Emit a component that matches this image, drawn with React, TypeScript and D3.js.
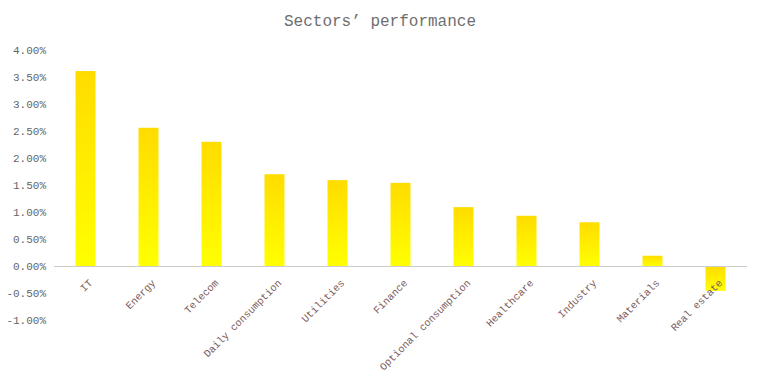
import * as React from 'react';
import {useEffect, useRef} from 'react';
import * as d3 from 'd3';

const width = 762;
const height = 375;

const sectors = [
  'IT', 'Energy', 'Telecom', 'Daily consumption', 'Utilities', 'Finance',
  'Optional consumption', 'Healthcare', 'Industry', 'Materials', 'Real estate'
];
const performance = [3.61, 2.56, 2.30, 1.70, 1.59, 1.54, 1.09, 0.93, 0.81, 0.19, -0.46];
const yTicks = [-1, -0.5, 0, 0.5, 1, 1.5, 2, 2.5, 3, 3.5, 4];

const font = '"Liberation Mono", "DejaVu Sans Mono", monospace';

export default function App() {
  const ref = useRef<SVGSVGElement>(null);

  useEffect(() => {
    const svg = d3.select(ref.current);
    svg.selectAll('*').remove();

    const x = d3.scaleBand().domain(sectors).range([54, 747]).paddingInner(0).paddingOuter(0);
    const y = d3.scaleLinear().domain([-1, 4]).range([320, 50]);

    const defs = svg.append('defs');
    const grad = defs.append('linearGradient')
      .attr('id', 'barGrad')
      .attr('x1', 0).attr('y1', 0).attr('x2', 0).attr('y2', 1);
    grad.append('stop').attr('offset', '0%').attr('stop-color', '#ffdc00');
    grad.append('stop').attr('offset', '100%').attr('stop-color', '#ffff00');

    svg.append('text')
      .attr('x', 380)
      .attr('y', 26)
      .attr('text-anchor', 'middle')
      .style('font-family', font)
      .style('font-size', '16px')
      .attr('fill', '#6e6e6e')
      .text('Sectors’ performance');

    // y tick labels
    svg.append('g')
      .selectAll('text')
      .data(yTicks)
      .join('text')
      .attr('x', 46)
      .attr('y', d => y(d))
      .attr('dy', '0.35em')
      .attr('text-anchor', 'end')
      .style('font-family', font)
      .style('font-size', '11px')
      .attr('fill', '#666')
      .text(d => d3.format('.2f')(d).replace('−', '-') + '%');

    const barW = 20;
    svg.append('g')
      .selectAll('rect')
      .data(performance)
      .join('rect')
      .attr('x', (d, i) => x(sectors[i])! + x.bandwidth() / 2 - barW / 2)
      .attr('y', d => y(Math.max(0, d)))
      .attr('width', barW)
      .attr('height', d => Math.abs(y(d) - y(0)))
      .attr('fill', 'url(#barGrad)');

    svg.append('line')
      .attr('x1', 54).attr('x2', 747)
      .attr('y1', y(0) + 0.5).attr('y2', y(0) + 0.5)
      .attr('stroke', '#ccc');

    svg.append('g')
      .selectAll('text')
      .data(sectors)
      .join('text')
      .attr('transform', d => `translate(${x(d)! + x.bandwidth() / 2 + 5},${y(0) + 15}) rotate(-45)`)
      .attr('text-anchor', 'end')
      .attr('dy', '0.35em')
      .style('font-family', font)
      .style('font-size', '10.3px')
      .attr('fill', '#7a5c5c')
      .text(d => d);
  }, []);

  return (
    <svg ref={ref} width={width} height={height}
      style={{position: 'absolute', left: 0, top: 0, background: '#fff'}}/>
  );
}
